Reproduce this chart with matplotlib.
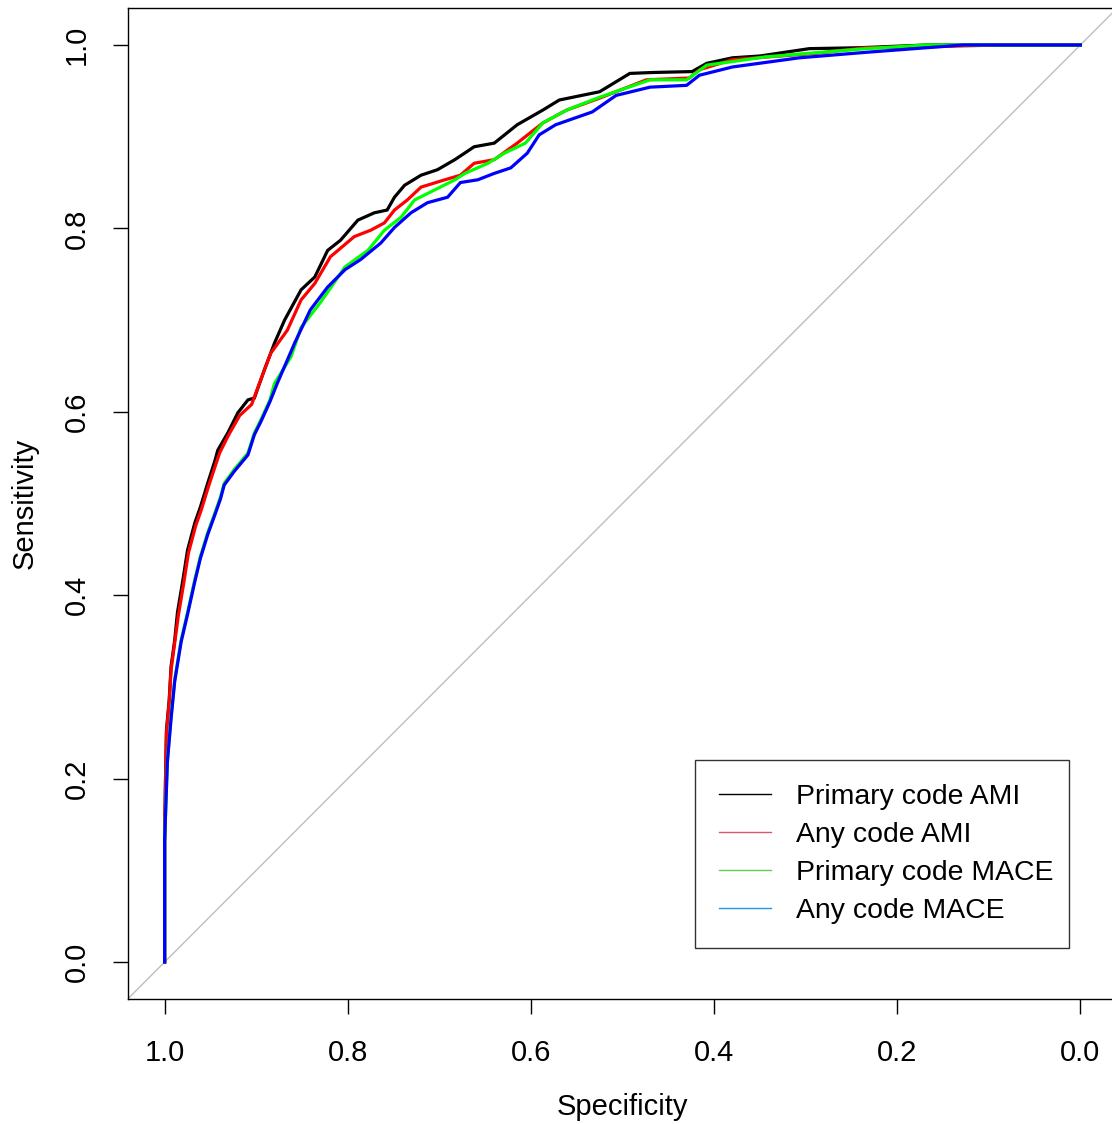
import matplotlib
matplotlib.use("Agg")
import matplotlib.pyplot as plt
from matplotlib.lines import Line2D

plt.rcParams['font.family'] = ['Liberation Sans', 'DejaVu Sans']

# --- data (specificity, sensitivity) ---
primary_ami_spec = [1.0, 1.0, 0.999, 0.998, 0.995, 0.993, 0.989, 0.986, 0.98, 0.975, 0.967, 0.961, 0.953, 0.945,
                    0.942, 0.931, 0.92, 0.909, 0.902, 0.891, 0.88, 0.869, 0.851, 0.836, 0.822, 0.808, 0.789, 0.771,
                    0.757, 0.749, 0.738, 0.72, 0.702, 0.683, 0.662, 0.64, 0.615, 0.587, 0.569, 0.525, 0.492, 0.467,
                    0.424, 0.408, 0.38, 0.35, 0.296, 0.241, 0.168, 0.088, 0.0]
primary_ami_sens = [0.0, 0.133, 0.202, 0.253, 0.286, 0.322, 0.351, 0.381, 0.417, 0.449, 0.479, 0.496, 0.522, 0.547,
                    0.558, 0.577, 0.599, 0.613, 0.615, 0.646, 0.675, 0.700, 0.733, 0.747, 0.776, 0.787, 0.809, 0.817,
                    0.820, 0.834, 0.847, 0.858, 0.864, 0.875, 0.889, 0.893, 0.913, 0.929, 0.94, 0.949, 0.969, 0.970,
                    0.971, 0.980, 0.986, 0.988, 0.996, 0.997, 1.0, 1.0, 1.0]

any_ami_spec = [1.0, 1.0, 0.999, 0.998, 0.995, 0.993, 0.989, 0.985, 0.979, 0.974, 0.966, 0.96, 0.952, 0.944, 0.94,
                0.93, 0.918, 0.905, 0.898, 0.884, 0.866, 0.851, 0.836, 0.819, 0.793, 0.775, 0.76, 0.749, 0.735, 0.72,
                0.694, 0.677, 0.662, 0.64, 0.615, 0.587, 0.561, 0.525, 0.474, 0.427, 0.416, 0.38, 0.288, 0.234,
                0.168, 0.088, 0.0]
any_ami_sens = [0.0, 0.133, 0.2, 0.25, 0.283, 0.318, 0.348, 0.378, 0.414, 0.446, 0.476, 0.493, 0.519, 0.543, 0.555,
                0.575, 0.596, 0.608, 0.627, 0.664, 0.689, 0.722, 0.740, 0.769, 0.791, 0.798, 0.806, 0.82, 0.831, 0.845,
                0.853, 0.858, 0.871, 0.875, 0.893, 0.915, 0.929, 0.942, 0.962, 0.964, 0.973, 0.984, 0.991, 0.997,
                0.998, 1.0, 1.0]

primary_mace_spec = [1.0, 1.0, 0.997, 0.993, 0.989, 0.982, 0.975, 0.967, 0.961, 0.953, 0.945, 0.939, 0.935, 0.924,
                     0.909, 0.902, 0.895, 0.885, 0.88, 0.862, 0.851, 0.83, 0.803, 0.778, 0.76, 0.742, 0.727, 0.705,
                     0.683, 0.672, 0.647, 0.629, 0.606, 0.587, 0.561, 0.525, 0.47, 0.43, 0.408, 0.344, 0.234, 0.168,
                     0.088, 0.0]
primary_mace_sens = [0.0, 0.133, 0.22, 0.267, 0.308, 0.351, 0.381, 0.417, 0.442, 0.468, 0.49, 0.507, 0.522, 0.537,
                     0.555, 0.577, 0.591, 0.613, 0.631, 0.66, 0.692, 0.719, 0.758, 0.776, 0.798, 0.812, 0.831, 0.842,
                     0.853, 0.86, 0.871, 0.882, 0.893, 0.915, 0.929, 0.943, 0.962, 0.962, 0.978, 0.987, 0.996, 1.0,
                     1.0, 1.0]

any_mace_spec = [1.0, 1.0, 0.997, 0.993, 0.989, 0.982, 0.975, 0.967, 0.961, 0.953, 0.945, 0.939, 0.935, 0.924,
                 0.909, 0.902, 0.895, 0.885, 0.877, 0.858, 0.841, 0.822, 0.803, 0.786, 0.764, 0.749, 0.731, 0.713,
                 0.691, 0.677, 0.658, 0.64, 0.622, 0.604, 0.591, 0.573, 0.533, 0.507, 0.47, 0.43, 0.416, 0.38, 0.307,
                 0.234, 0.168, 0.128, 0.0]
any_mace_sens = [0.0, 0.133, 0.218, 0.265, 0.306, 0.349, 0.379, 0.415, 0.44, 0.466, 0.488, 0.505, 0.52, 0.535,
                 0.553, 0.575, 0.589, 0.611, 0.631, 0.675, 0.711, 0.736, 0.755, 0.766, 0.784, 0.801, 0.817, 0.828,
                 0.834, 0.85, 0.853, 0.86, 0.866, 0.882, 0.902, 0.913, 0.927, 0.945, 0.954, 0.956, 0.967, 0.976, 0.986,
                 0.992, 0.997, 1.0, 1.0]

series_labels = ["Primary code AMI", "Any code AMI", "Primary code MACE", "Any code MACE"]
curve_colors = ["#000000", "#FF0000", "#00FF00", "#0000FF"]
legend_colors = ["#000000", "#DF536B", "#61D04F", "#2297E6"]
tick_values = [1.0, 0.8, 0.6, 0.4, 0.2, 0.0]
tick_labels = ["1.0", "0.8", "0.6", "0.4", "0.2", "0.0"]

W, H = 1112, 1124
fig = plt.figure(figsize=(W / 100, H / 100), dpi=100)
ax = fig.add_axes([128 / W, 1 - 998.7 / H, (1117 - 128) / W, (998.7 - 8.3) / H])
ax.set_xlim(1.04, -0.04)
ax.set_ylim(-0.04, 1.04)

# diagonal reference line
ax.plot([1.04, -0.04], [-0.04, 1.04], color="#BEBEBE", lw=1.0, zorder=1)

curves = [(primary_ami_spec, primary_ami_sens), (any_ami_spec, any_ami_sens),
          (primary_mace_spec, primary_mace_sens), (any_mace_spec, any_mace_sens)]
for (sp, se), c in zip(curves, curve_colors):
    ax.plot(sp, se, color=c, lw=2.3, solid_joinstyle='miter', zorder=2)

for s in ax.spines.values():
    s.set_linewidth(1.0)
    s.set_color("black")

ax.set_xticks(tick_values)
ax.set_xticklabels(tick_labels)
ax.set_yticks(tick_values)
ax.set_yticklabels(tick_labels, rotation=90, va='center')
ax.tick_params(axis='both', length=10.8, width=1.0, labelsize=21, color='black')
ax.tick_params(axis='x', pad=18)
ax.tick_params(axis='y', pad=16)

ax.set_xlabel("Specificity", fontsize=21, labelpad=19)
ax.set_ylabel("Sensitivity", fontsize=21, labelpad=17)

handles = [Line2D([0], [0], color=c, lw=1.0) for c in legend_colors]
leg = ax.legend(handles, series_labels, loc='lower left', mode='expand',
                bbox_to_anchor=(695 / W, 1 - 948 / H, 374 / W, 190 / H), bbox_transform=fig.transFigure,
                fontsize=20.4, frameon=True, fancybox=False, edgecolor='black',
                handlelength=1.84, handletextpad=0.88, labelspacing=0.42, borderpad=0.85,
                borderaxespad=0)
leg.get_frame().set_linewidth(1.0)

fig.savefig("out.png", dpi=100)
